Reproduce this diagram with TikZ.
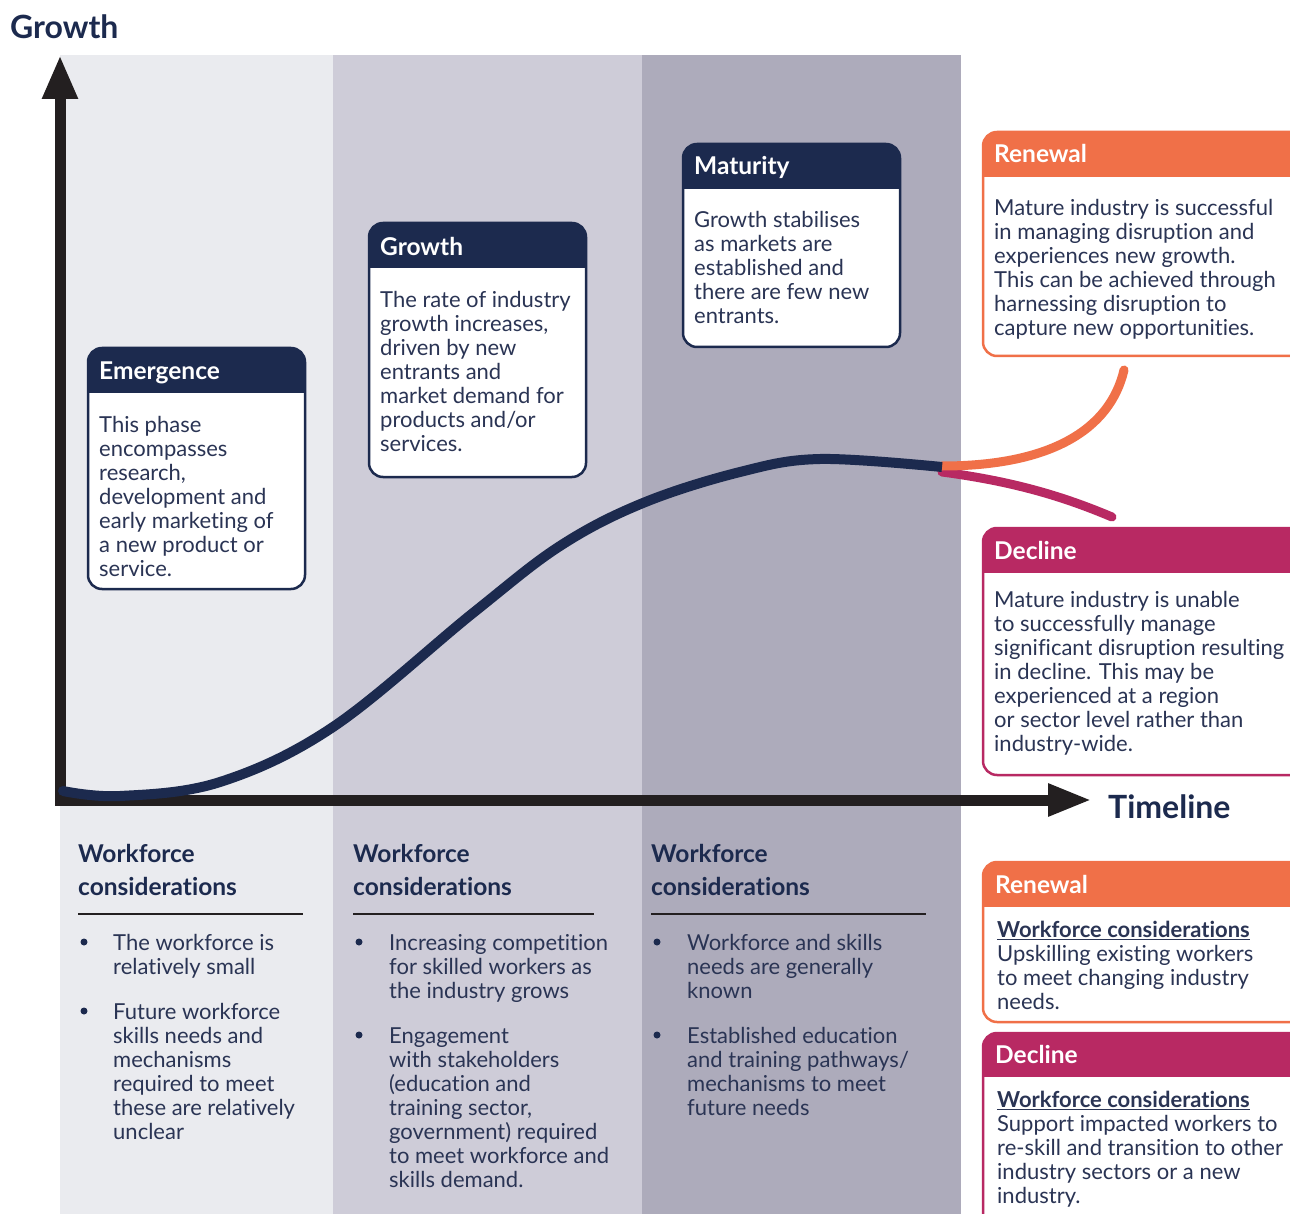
\documentclass[tikz,border=0pt]{standalone}
\usepackage{fontspec}
\setmainfont{Lato}[Ligatures=NoCommon]
\usetikzlibrary{arrows.meta}
\definecolor{navy}{HTML}{1C2A4E}
\definecolor{txt}{HTML}{2A3454}
\definecolor{orng}{HTML}{F07048}
\definecolor{mag}{HTML}{B82963}
\definecolor{axisc}{HTML}{231F20}
\definecolor{bandA}{HTML}{EAEBEF}
\definecolor{bandB}{HTML}{CECCD8}
\definecolor{bandC}{HTML}{ADABBB}
\newcommand\bodyf{\fontsize{22}{24}\selectfont}
\newcommand\headf{\fontsize{24.5}{26}\selectfont\bfseries}
\newcommand\wff{\fontsize{24.5}{33}\selectfont\bfseries}
\newcommand\cardbox[6]{%
  \fill[white,rounded corners=14pt] (#1,#2) rectangle (#3,#4);
  \begin{scope}
    \clip[rounded corners=14pt] (#1,#2) rectangle (#3,#4);
    \fill[#6] (#1,#2) rectangle (#3,#5);
  \end{scope}
  \draw[#6,line width=2.5pt,rounded corners=14pt] (#1,#2) rectangle (#3,#4);}
\begin{document}
\begin{tikzpicture}[x=1pt,y=-1pt,
  body/.style={anchor=north west,inner sep=0pt,font=\bodyf,text=txt,align=left,yshift=16.8pt},
  head/.style={anchor=base west,inner sep=0pt,font=\headf,text=white},
  wfhead/.style={anchor=north west,inner sep=0pt,font=\wff,text=navy,align=left,yshift=23.1pt},
  title/.style={anchor=base west,inner sep=0pt,font=\fontsize{32}{36}\selectfont\bfseries,text=navy},
  rulel/.style={axisc,line width=2.5pt},
  dot/.style={fill=navy}]
\clip (0,0) rectangle (1290,1214);
\fill[white] (0,0) rectangle (1290,1214);
% bands
\fill[bandA] (60,55) rectangle (333,1214);
\fill[bandB] (333,55) rectangle (642,1214);
\fill[bandC] (642,55) rectangle (961,1214);
% axes
\coordinate (ytip) at (60,55);
\coordinate (origin) at (60,800);
\coordinate (xtip) at (1092,800);
\draw[axisc,line width=11pt,line join=miter,
  {Triangle[length=44pt,width=33pt]}-{Triangle[length=44pt,width=30pt]}]
  (ytip) -- (origin) -- (xtip);
% curves
\draw[mag,line width=9pt,line cap=round] (942,472) .. controls (1010,481) and (1060,495) .. (1112,517);
\draw[orng,line width=9pt,line cap=round] (942,466) .. controls (1050,466) and (1110,430) .. (1124,370);
\fill[navy] (63,791) circle (5pt);
\draw[navy,line width=10pt] plot[smooth,tension=0.6] coordinates {(63,791) (120,796) (220,782) (333,727) (473,613) (560,546) (643,503) (740,472) (820,459) (942,467)};
% titles
\node[title] (gtitle) at (10,39) {Growth};
\node[title] (ttitle) at (1108,818) {Timeline};
% phase boxes
\cardbox{88}{348}{305}{589}{393}{navy}
\node[head] (emh) at (99,380) {Emergence};
\node[body] (emb) at (99,432) {\strut This phase\\encompasses\\research,\\development and\\early marketing of\\a new product or\\service.};
\cardbox{369}{223}{586}{477}{268}{navy}
\node[head] (grh) at (380,256) {Growth};
\node[body] (grb) at (380,307) {\strut The rate of industry\\growth increases,\\driven by new\\entrants and\\market demand for\\products and/or\\services.};
\cardbox{683}{144}{900}{347}{189}{navy}
\node[head] (mah) at (694,175) {Maturity};
\node[body] (mab) at (694,227) {\strut Growth stabilises\\as markets are\\established and\\there are few new\\entrants.};
\cardbox{983}{132}{1310}{356}{177}{orng}
\node[head] (reh) at (994,163) {Renewal};
\node[body] (reb) at (994,215) {\strut Mature industry is successful\\in managing disruption and\\experiences new growth.\\This can be achieved through\\harnessing disruption to\\capture new opportunities.};
\cardbox{983}{528}{1310}{775}{573}{mag}
\node[head] (deh) at (994,559) {Decline};
\node[body] (deb) at (994,607) {\strut Mature industry is unable\\to successfully manage\\significant disruption resulting\\in decline. This may be\\experienced at a region\\or sector level rather than\\industry-wide.};
\cardbox{983}{862}{1310}{1022}{907}{orng}
\node[head] (rsh) at (995,893) {Renewal};
\node[body] (rsb) at (997,937) {\strut\textbf{\underline{Workforce considerations}}\\Upskilling existing workers\\to meet changing industry\\needs.};
\cardbox{983}{1033}{1310}{1260}{1077}{mag}
\node[head] (dsh) at (995,1063) {Decline};
\node[body] (dsb) at (997,1107) {\strut\textbf{\underline{Workforce considerations}}\\Support impacted workers to\\re-skill and transition to other\\industry sectors or a new\\industry.};
% workforce columns
\node[wfhead] (wf1) at (78,862) {\strut Workforce\\considerations};
\node[wfhead] (wf2) at (353,862) {\strut Workforce\\considerations};
\node[wfhead] (wf3) at (651,862) {\strut Workforce\\considerations};
\draw[rulel] (78,914) -- (303,914);
\draw[rulel] (353,914) -- (594,914);
\draw[rulel] (651,914) -- (926,914);
\fill[dot] (84,942) circle (3.5pt);
\fill[dot] (84,1011) circle (3.5pt);
\fill[dot] (359,942) circle (3.5pt);
\fill[dot] (359,1035) circle (3.5pt);
\fill[dot] (657,942) circle (3.5pt);
\fill[dot] (657,1035) circle (3.5pt);
\node[body] (c1a) at (113,950) {\strut The workforce is\\relatively small};
\node[body] (c1b) at (113,1019) {\strut Future workforce\\skills needs and\\mechanisms\\required to meet\\these are relatively\\unclear};
\node[body] (c2a) at (389,950) {\strut Increasing competition\\for skilled workers as\\the industry grows};
\node[body] (c2b) at (389,1043) {\strut Engagement\\with stakeholders\\(education and\\training sector,\\government) required\\to meet workforce and\\skills demand.};
\node[body] (c3a) at (687,950) {\strut Workforce and skills\\needs are generally\\known};
\node[body] (c3b) at (687,1043) {\strut Established education\\and training pathways/\\mechanisms to meet\\future needs};
\end{tikzpicture}
\end{document}
